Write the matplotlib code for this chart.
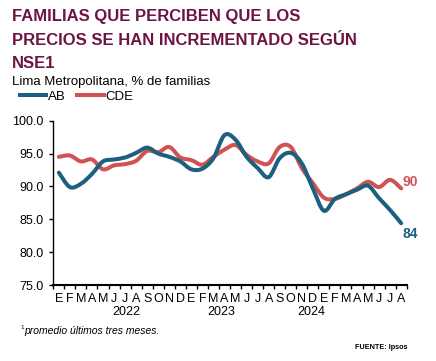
import numpy as np
import matplotlib
matplotlib.use("Agg")
import matplotlib.pyplot as plt
from matplotlib.path import Path
from matplotlib.patches import PathPatch

plt.rcParams['font.family'] = ['Liberation Sans', 'DejaVu Sans']

# Data (monthly, Jan 2022 - Aug 2024)
months = ['E', 'F', 'M', 'A', 'M', 'J', 'J', 'A', 'S', 'O', 'N', 'D',
          'E', 'F', 'M', 'A', 'M', 'J', 'J', 'A', 'S', 'O', 'N', 'D',
          'E', 'F', 'M', 'A', 'M', 'J', 'J', 'A']
years = ['2022', '2023', '2024']
year_pos = [6.1, 14.7, 22.9]

ab = [92.1, 89.9, 90.4, 91.9, 93.8, 94.1, 94.4, 95.1, 95.9, 95.0, 94.5, 93.8,
      92.6, 92.7, 94.3, 97.8, 97.1, 94.5, 92.8, 91.4, 94.3, 95.1, 93.5, 89.7,
      86.3, 88.1, 88.8, 89.5, 90.1, 88.2, 86.4, 84.4]
cde = [94.5, 94.7, 93.8, 94.1, 92.6, 93.2, 93.4, 93.9, 95.4, 95.2, 96.0, 94.4,
       94.0, 93.3, 94.5, 95.6, 96.3, 94.8, 93.8, 93.5, 96.0, 96.0, 92.8, 90.5,
       88.3, 88.1, 88.8, 89.7, 90.7, 89.9, 91.0, 89.7]

c_ab = '#1d5f7e'
c_cde = '#d05252'
c_title = '#6e1444'


def smooth_path(x, y):
    # Catmull-Rom style cubic Bezier through the points (like Excel smoothed lines)
    x = np.asarray(x, float)
    y = np.asarray(y, float)
    verts = [(x[0], y[0])]
    codes = [Path.MOVETO]
    n = len(x)
    for i in range(n - 1):
        p0 = (x[max(i - 1, 0)], y[max(i - 1, 0)])
        p1 = (x[i], y[i])
        p2 = (x[i + 1], y[i + 1])
        p3 = (x[min(i + 2, n - 1)], y[min(i + 2, n - 1)])
        c1 = (p1[0] + (p2[0] - p0[0]) / 6, p1[1] + (p2[1] - p0[1]) / 6)
        c2 = (p2[0] - (p3[0] - p1[0]) / 6, p2[1] - (p3[1] - p1[1]) / 6)
        verts += [c1, c2, p2]
        codes += [Path.CURVE4] * 3
    return Path(verts, codes)


fig = plt.figure(figsize=(4.36, 3.61), dpi=100)
ax = fig.add_axes([0.1223, 0.2105, 0.8105, 0.4552])

x = np.arange(len(months))
for vals, col in [(cde, c_cde), (ab, c_ab)]:
    ax.add_patch(PathPatch(smooth_path(x, vals), fill=False, edgecolor=col,
                           lw=2.9, capstyle='round', joinstyle='round'))

ax.set_xlim(-0.5, len(months) - 0.5)
ax.set_ylim(75, 100)
ax.set_yticks(np.arange(75, 100.1, 5))
ax.set_yticklabels([f'{v:.1f}' for v in np.arange(75, 100.1, 5)], fontsize=9)
ax.set_xticks(np.arange(-0.5, len(months), 1))
ax.set_xticklabels([])
ax.set_xticks(x, minor=True)
ax.set_xticklabels(months, minor=True, fontsize=9)
ax.tick_params(axis='x', which='major', length=3, width=1, direction='out')
ax.tick_params(axis='x', which='minor', length=0, pad=6)
ax.tick_params(axis='y', length=3, width=1, pad=4)
for s in ['top', 'right']:
    ax.spines[s].set_visible(False)
for s in ['left', 'bottom']:
    ax.spines[s].set_linewidth(1)
ax.spines['bottom'].set_linewidth(1.5)

for yr, pos in zip(years, year_pos):
    ax.text(pos, -0.125, yr, transform=ax.get_xaxis_transform(),
            ha='center', va='top', fontsize=9)

ax.text(len(months) - 0.85, cde[-1] + 1.0, f'{round(cde[-1])}', color=c_cde,
        fontsize=10, fontweight='bold', ha='left', va='center')
ax.text(len(months) - 0.85, ab[-1] - 1.7, f'{round(ab[-1])}', color=c_ab,
        fontsize=10, fontweight='bold', ha='left', va='center')

fig.text(0.028, 0.974, 'FAMILIAS QUE PERCIBEN QUE LOS\nPRECIOS SE HAN INCREMENTADO SEGÚN\nNSE1',
         color=c_title, fontsize=12, fontweight='bold', ha='left', va='top',
         linespacing=1.68)
fig.text(0.028, 0.772, 'Lima Metropolitana, % de familias', fontsize=9.5,
         ha='left', va='center')

# legend
fig.legend(handles=[plt.Line2D([], [], color=c_ab, lw=2.9),
                    plt.Line2D([], [], color=c_cde, lw=2.9)],
           labels=['AB', 'CDE'], ncol=2, frameon=False, fontsize=9.5,
           loc='center left', bbox_to_anchor=(0.046, 0.733), handlelength=2.0,
           handletextpad=0.1, columnspacing=0.9, borderaxespad=0, borderpad=0)

fig.text(0.045, 0.085, '$^1$', fontsize=6, ha='left', va='center', style='italic')
fig.text(0.055, 0.083, 'promedio últimos tres meses.', fontsize=7.5,
         ha='left', va='center', style='italic')
fig.text(0.935, 0.038, 'FUENTE: Ipsos', fontsize=5.2, fontweight='bold',
         ha='right', va='center')

fig.savefig('out.png', dpi=100)
